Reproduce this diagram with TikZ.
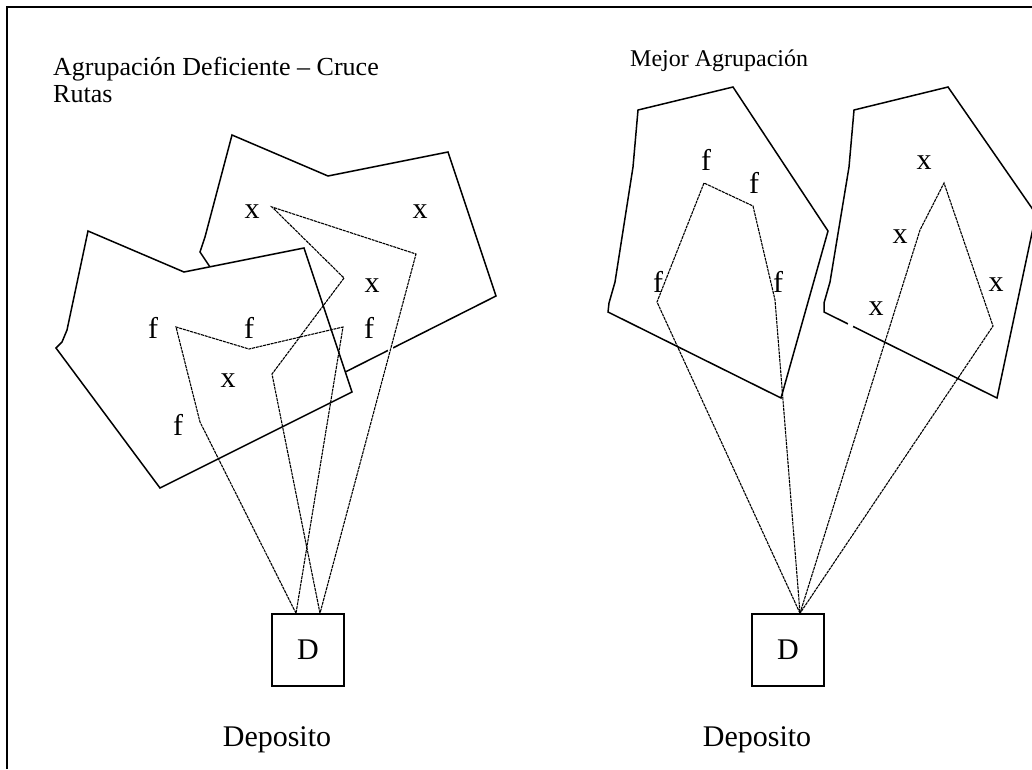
\documentclass[tikz,border=0pt]{standalone}
\usepackage{fontspec}
\setmainfont{Liberation Serif}
\begin{document}
\begin{tikzpicture}[x=1pt,y=-1pt,
  poly/.style={line width=1.5pt, line join=miter},
  route/.style={line width=1.1pt, dash pattern=on 3pt off 0.8pt},
  lbl/.style={anchor=base, inner sep=0pt, font=\fontsize{30}{32}\selectfont},
  depbox/.style={draw, line width=1.5pt, minimum size=72pt, inner sep=0pt, font=\fontsize{30}{32}\selectfont},
  deptext/.style={anchor=base, inner sep=0pt, font=\fontsize{30}{32}\selectfont},
  ttl/.style={anchor=base west, inner sep=0pt},
]
\useasboundingbox (0,0) rectangle (1032,769);
\begin{scope}
\clip (0,0) rectangle (1032,769);
% frame
\draw[line width=1.6pt] (7,769) -- (7,7) -- (1032,7);

% ---------- left: poor clustering ----------
% back cluster (x)
\draw[poly] (232,135) -- (328,176) -- (448,152) -- (496,296) -- (250,420) -- (210,267) -- (200,252) -- (205,237) -- cycle;
% front cluster (f)
\draw[poly, fill=white] (88,231) -- (184,272) -- (304,248) -- (352,392) -- (160,488) -- (56,348) -- (62,342) -- (67,330) -- cycle;
\fill[white] (390.6,349.3) circle (3);

% ---------- right: better clustering ----------
\draw[poly] (638,110) -- (733,87) -- (828,231) -- (781,398) -- (608,312) -- (609,303) -- (615,282) -- (633,167) -- cycle;
\draw[poly] (854,110) -- (948,87) -- (1036,214) -- (997,398) -- (824,312) -- (824,303) -- (830,282) -- (849,167) -- cycle;
\fill[white] (850.5,325.2) circle (3);

% depots
\node[depbox] (DL) at (308,650) {D};
\node[depbox] (DR) at (788,650) {D};
\coordinate (DLa) at ([xshift=-12pt]DL.north);
\coordinate (DLb) at ([xshift=12pt]DL.north);
\coordinate (DRa) at ([xshift=12pt]DR.north);

% route stops, left
\coordinate (lf1) at (200,422);
\coordinate (lf2) at (176,327);
\coordinate (lf3) at (249,349);
\coordinate (lf4) at (343,327);
\coordinate (lx1) at (272,374);
\coordinate (lx2) at (344,278);
\coordinate (lx3) at (272,207);
\coordinate (lx4) at (416,254);
% route stops, right
\coordinate (rf1) at (657,302);
\coordinate (rf2) at (704,183);
\coordinate (rf3) at (753,206);
\coordinate (rf4) at (775,300);
\coordinate (rx1) at (920,230);
\coordinate (rx2) at (944,183);
\coordinate (rx3) at (993,326);

% routes
\draw[route] (DLa) -- (lf1) -- (lf2) -- (lf3) -- (lf4) -- (DLa);
\draw[route] (DLb) -- (lx1) -- (lx2) -- (lx3) -- (lx4) -- (DLb);
\draw[route] (DRa) -- (rf1) -- (rf2) -- (rf3) -- (rf4) -- (DRa);
\draw[route] (DRa) -- (rx1) -- (rx2) -- (rx3) -- (DRa);
\end{scope}

% labels, left
\node[lbl] (a1) at (252,218) {x};
\node[lbl] (a2) at (420,218) {x};
\node[lbl] (a3) at (372,292) {x};
\node[lbl] (a4) at (153,338) {f};
\node[lbl] (a5) at (249,338) {f};
\node[lbl] (a6) at (369,338) {f};
\node[lbl] (a7) at (228,387) {x};
\node[lbl] (a8) at (178,435) {f};
% labels, right
\node[lbl] (b1) at (706,170) {f};
\node[lbl] (b2) at (754,193) {f};
\node[lbl] (b3) at (658,292) {f};
\node[lbl] (b4) at (778,292) {f};
\node[lbl] (b5) at (924,169) {x};
\node[lbl] (b6) at (900,243) {x};
\node[lbl] (b7) at (996,291) {x};
\node[lbl] (b8) at (876,315) {x};

% captions
\node[deptext] (depL) at (277,746) {Deposito};
\node[deptext] (depR) at (757,746) {Deposito};

% titles
\node[ttl, font=\fontsize{26}{28}\selectfont] (t1) at (53,75) {Agrupación Deficiente – Cruce};
\node[ttl, font=\fontsize{26}{28}\selectfont] (t1b) at (53,102) {Rutas};
\node[ttl, font=\fontsize{24}{26}\selectfont] (t2) at (630,66) {Mejor Agrupación};
\end{tikzpicture}
\end{document}
